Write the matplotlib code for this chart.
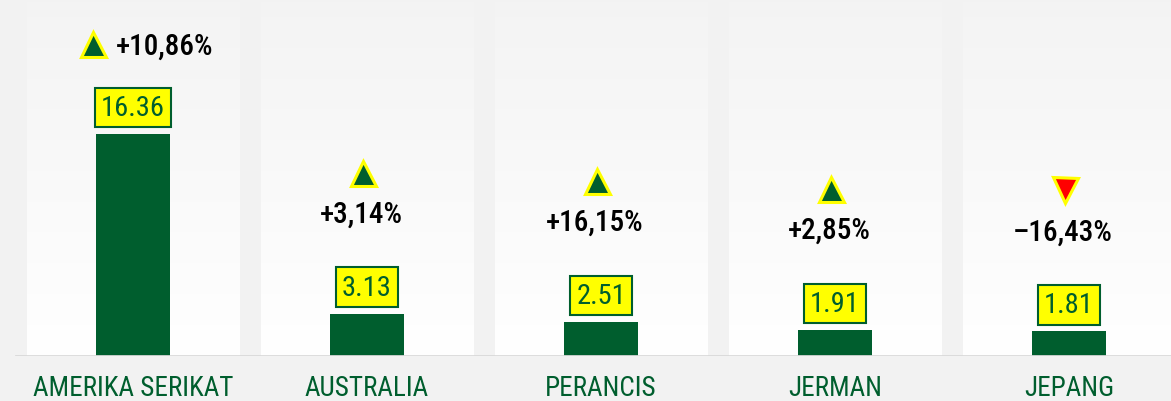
import matplotlib
matplotlib.use("Agg")
import matplotlib.pyplot as plt
import numpy as np
from matplotlib import font_manager

# data
countries = ["AMERIKA SERIKAT", "AUSTRALIA", "PERANCIS", "JERMAN", "JEPANG"]
values = [16.36, 3.13, 2.51, 1.91, 1.81]
changes = [10.86, 3.14, 16.15, 2.85, -16.43]

GREEN = "#005e2e"
YELLOW = "#ffff00"
RED = "#ff0000"
BG = "#f2f2f2"

installed = {f.name for f in font_manager.fontManager.ttflist}
font = "DejaVu Sans"
for cand in ["Roboto Condensed", "Liberation Sans Narrow", "DejaVu Sans Condensed", "Roboto"]:
    if cand in installed:
        font = cand
        break
plt.rcParams["font.family"] = [font, "DejaVu Sans"]

fig = plt.figure(figsize=(11.71, 4.02), dpi=100, facecolor=BG)
ax = fig.add_axes([0, 45 / 402, 1, 357 / 402])
ax.set_facecolor(BG)

step = 234.0
x0 = 133.0
ax.set_xlim(-x0 / step, (1171 - x0) / step)
ax.set_ylim(0, 357 / 13.57)
ymax = ax.get_ylim()[1]
x = np.arange(len(countries))

# column panels with soft gradient
grad = np.linspace(0.955, 1.0, 256).reshape(-1, 1)
grad = np.dstack([grad, grad, grad])
for xi in x:
    ax.imshow(grad, extent=(xi - 0.455, xi + 0.455, 0, ymax - 0.28),
              aspect="auto", origin="upper", zorder=0, interpolation="bicubic")

ax.bar(x, values, width=0.316, color=GREEN, zorder=2)
ax.axhline(0, color="#d9d9d9", lw=2, xmin=16 / 1171, zorder=3)

for xi, v, c in zip(x, values, changes):
    ax.annotate(f"{v:.2f}", xy=(xi, v), xytext=(0, 13), textcoords="offset pixels",
                ha="center", va="bottom", fontsize=20.5, color=GREEN, zorder=5,
                bbox=dict(boxstyle="square,pad=0.22", fc=YELLOW, ec=GREEN, lw=1.5))
    sign = "+" if c >= 0 else "\u2013"
    txt = f"{sign}{abs(c):.2f}%".replace(".", ",")
    mk = "^" if c >= 0 else "v"
    fc = GREEN if c >= 0 else RED
    if v > 10:
        ax.annotate(txt, xy=(xi, v), xytext=(-17, 88), textcoords="offset pixels",
                    ha="left", va="center", fontsize=21, fontweight="medium",
                    color="black", zorder=5)
        mx, my = -40, 90
    else:
        ax.annotate(txt, xy=(xi, v), xytext=(-6, 100), textcoords="offset pixels",
                    ha="center", va="center", fontsize=21, fontweight="medium",
                    color="black", zorder=5)
        mx, my = -4, 141
    # marker placed at pixel offset from bar top
    px, py = ax.transData.transform((xi, v))
    dx, dy = ax.transData.inverted().transform((px + mx, py + my))
    ax.plot(dx, dy, marker=mk, ms=18, mfc=fc, mec=YELLOW, mew=2.2, zorder=6, clip_on=False)

ax.set_xticks(x)
ax.set_xticklabels(countries, fontsize=19.5, color=GREEN)
ax.tick_params(axis="x", length=0, pad=13)
ax.set_yticks([])
for s in ax.spines.values():
    s.set_visible(False)

fig.savefig("out.png", dpi=100, facecolor=BG)
